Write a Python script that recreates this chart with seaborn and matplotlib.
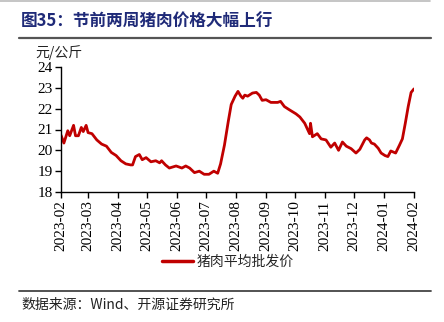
import matplotlib
matplotlib.use("Agg")
import matplotlib.pyplot as plt
import matplotlib.dates as mdates
from matplotlib.lines import Line2D
import seaborn as sns
import pandas as pd

dates = [
    "2023-02-01", "2023-02-04", "2023-02-08", "2023-02-10", "2023-02-12", "2023-02-14", "2023-02-16",
    "2023-02-19", "2023-02-22", "2023-02-24", "2023-02-27", "2023-03-01", "2023-03-05", "2023-03-10",
    "2023-03-15", "2023-03-20", "2023-03-25", "2023-03-30", "2023-04-04", "2023-04-09", "2023-04-14",
    "2023-04-16", "2023-04-19", "2023-04-23", "2023-04-26", "2023-04-30", "2023-05-05", "2023-05-10",
    "2023-05-14", "2023-05-16", "2023-05-20", "2023-05-24", "2023-05-31", "2023-06-06", "2023-06-10",
    "2023-06-14", "2023-06-19", "2023-06-24", "2023-06-29", "2023-07-04", "2023-07-09", "2023-07-13",
    "2023-07-16", "2023-07-20", "2023-07-24", "2023-07-27", "2023-07-31", "2023-08-03", "2023-08-06",
    "2023-08-08", "2023-08-10", "2023-08-13", "2023-08-18", "2023-08-22", "2023-08-25", "2023-08-28",
    "2023-09-01", "2023-09-06", "2023-09-13", "2023-09-16", "2023-09-20", "2023-09-25", "2023-10-02",
    "2023-10-06", "2023-10-11", "2023-10-16", "2023-10-17", "2023-10-19", "2023-10-24", "2023-10-28",
    "2023-11-02", "2023-11-07", "2023-11-11", "2023-11-15", "2023-11-19", "2023-11-23", "2023-11-28",
    "2023-12-03", "2023-12-07", "2023-12-12", "2023-12-14", "2023-12-17", "2023-12-19", "2023-12-22",
    "2023-12-26", "2023-12-29", "2024-01-02", "2024-01-05", "2024-01-08", "2024-01-13", "2024-01-17",
    "2024-01-20", "2024-01-23", "2024-01-26", "2024-01-29", "2024-02-01",
]
prices = [
    20.73, 20.35, 20.94, 20.70, 20.95, 21.20, 20.70,
    20.70, 21.10, 20.90, 21.20, 20.85, 20.80, 20.50,
    20.30, 20.20, 19.90, 19.75, 19.50, 19.35, 19.30,
    19.30, 19.70, 19.80, 19.55, 19.65, 19.45, 19.50,
    19.40, 19.50, 19.30, 19.15, 19.25, 19.15, 19.25,
    19.15, 18.93, 19.00, 18.85, 18.85, 19.00, 18.90,
    19.35, 20.25, 21.40, 22.20, 22.60, 22.83, 22.60,
    22.50, 22.65, 22.60, 22.75, 22.78, 22.65, 22.40,
    22.43, 22.30, 22.30, 22.35, 22.10, 21.95, 21.75,
    21.60, 21.30, 20.80, 21.30, 20.65, 20.80, 20.55,
    20.50, 20.15, 20.35, 20.00, 20.40, 20.20, 20.08,
    19.87, 20.05, 20.50, 20.60, 20.50, 20.35, 20.30,
    20.10, 19.87, 19.75, 19.70, 19.97, 19.87, 20.25,
    20.55, 21.30, 22.10, 22.78, 22.95,
]
series_name = "猪肉平均批发价"
title_text = "图35：节前两周猪肉价格大幅上行"
unit_text = "元/公斤"
source_text = "数据来源：Wind、开源证券研究所"
y_ticks = [18, 19, 20, 21, 22, 23, 24]

df = pd.DataFrame({"date": pd.to_datetime(dates), "price": prices})

sns.set_theme(style="white")
plt.rcParams["font.family"] = ["Liberation Serif", "Noto Sans CJK SC", "DejaVu Sans"]
cjk = ["Noto Sans CJK SC", "DejaVu Sans"]

W, H = 444, 322
fig = plt.figure(figsize=(W / 100, H / 100), dpi=100)
fig.patch.set_facecolor("white")

ax = fig.add_axes([61 / W, 1 - 192 / H, (414 - 61) / W, (192 - 67) / H])
sns.lineplot(data=df, x="date", y="price", ax=ax, color="#C00000", linewidth=2.0, legend=False)

ax.set_ylim(18, 24)
ax.set_yticks(y_ticks)
ax.set_xlim(pd.Timestamp("2023-02-01"), pd.Timestamp("2024-02-01"))
ax.xaxis.set_major_locator(mdates.MonthLocator())
ax.xaxis.set_major_formatter(mdates.DateFormatter("%Y-%m"))
ax.set_xlabel("")
ax.set_ylabel("")
for s in ["top", "right"]:
    ax.spines[s].set_visible(False)
for s in ["left", "bottom"]:
    ax.spines[s].set_color("black")
    ax.spines[s].set_linewidth(1.0)
ax.tick_params(axis="both", which="major", direction="out", length=4, width=1,
               color="black", labelsize=11, labelcolor="black", pad=2)
ax.tick_params(axis="both", left=True, bottom=True)
for lab in ax.get_xticklabels():
    lab.set_rotation(90)
    lab.set_fontfamily("Liberation Serif")
for lab in ax.get_yticklabels():
    lab.set_fontfamily("Liberation Serif")
ax.grid(False)

# unit label
fig.text(35 / W, 1 - 53 / H, unit_text, fontsize=10, family=cjk, style="italic",
         color="#222222", ha="left", va="center")

# legend
handle = Line2D([0], [0], color="#C00000", linewidth=2.5)
fig.legend([handle], [series_name], loc="center", bbox_to_anchor=(228 / W, 1 - 262 / H),
           frameon=False, prop={"family": cjk, "size": 10}, handlelength=2.2,
           handletextpad=0.3, borderaxespad=0)

# title and rules
fig.text(21 / W, 1 - 22 / H, title_text, fontsize=12, family=cjk, fontweight="bold",
         color="#1F2A78", ha="left", va="center")
fig.add_artist(Line2D([0, 430 / W], [1 - 0.8 / H, 1 - 0.8 / H], color="#BBBBBB", linewidth=1.2))
fig.add_artist(Line2D([19 / W, 431 / W], [1 - 38 / H, 1 - 38 / H], color="#555555", linewidth=1.6))
fig.add_artist(Line2D([19 / W, 431 / W], [1 - 290.5 / H, 1 - 290.5 / H], color="#444444", linewidth=1.3))

fig.text(21 / W, 1 - 305 / H, source_text, fontsize=10, family=cjk,
         color="#222222", ha="left", va="center")

fig.savefig("out.png", dpi=100, facecolor="white")
